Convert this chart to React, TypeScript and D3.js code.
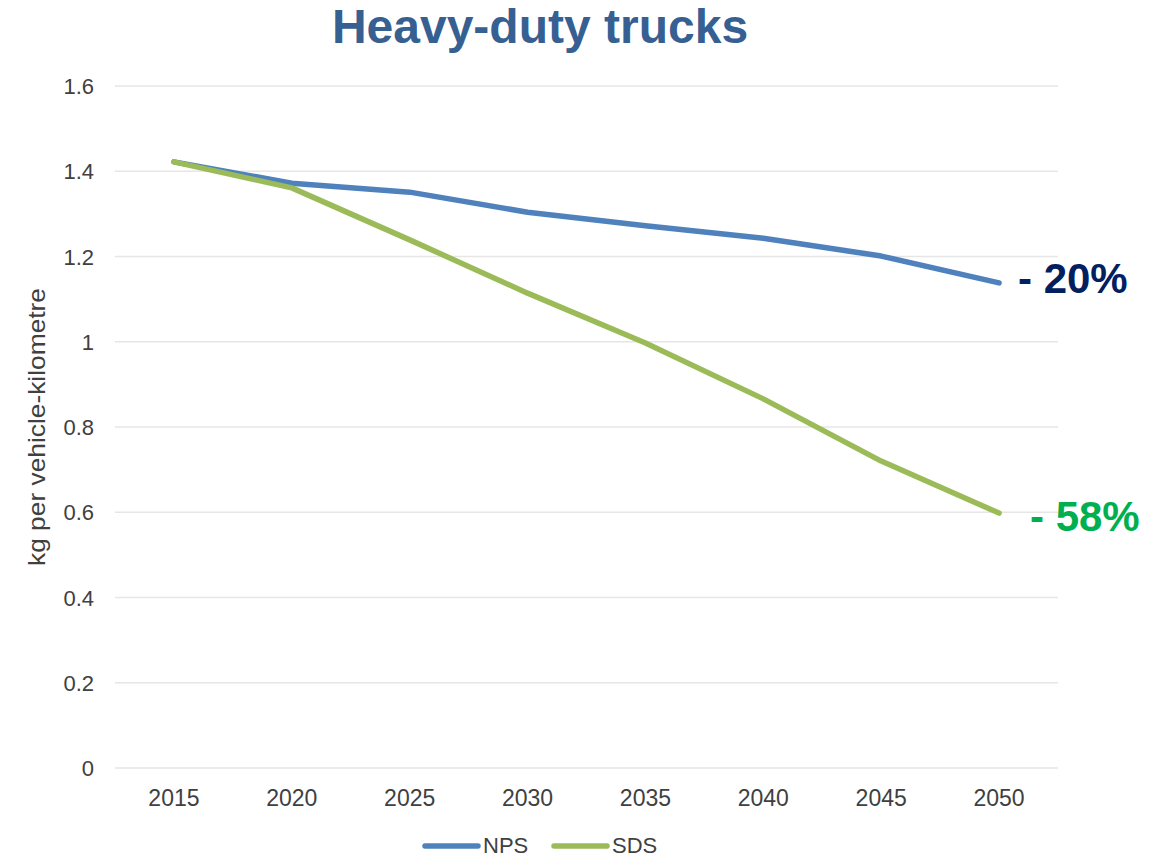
import React from "react";
import * as d3 from "d3";

const years = ["2015", "2020", "2025", "2030", "2035", "2040", "2045", "2050"];
const npsValues = [1.422, 1.372, 1.351, 1.304, 1.272, 1.243, 1.201, 1.138];
const sdsValues = [1.422, 1.361, 1.239, 1.114, 0.997, 0.866, 0.72, 0.598];
const yTicks = [0, 0.2, 0.4, 0.6, 0.8, 1, 1.2, 1.4, 1.6];
const seriesNames = ["NPS", "SDS"];
const seriesColors = ["#4F81BD", "#9BBB59"];
const annotations = ["- 20%", "- 58%"];
const annotationColors = ["#002060", "#00B050"];

const W = 1171;
const H = 858;
const plot = { left: 115, right: 1058, top: 86, bottom: 768 };
const font = "'Liberation Sans', Arial, sans-serif";

export default function App() {
  const x = d3.scaleBand<string>().domain(years).range([plot.left, plot.right]);
  const y = d3.scaleLinear().domain([0, 1.6]).range([plot.bottom, plot.top]);
  const cx = (yr: string) => (x(yr) as number) + x.bandwidth() / 2;
  const line = d3
    .line<number>()
    .x((_, i) => cx(years[i]))
    .y((v) => y(v));
  const series = [npsValues, sdsValues];

  return (
    <svg
      width={W}
      height={H}
      style={{ position: "absolute", left: 0, top: 0, background: "#fff" }}
      fontFamily={font}
    >
      <text x={540} y={43} textAnchor="middle" fontSize={48} fontWeight="bold" fill="#376092">
        Heavy-duty trucks
      </text>
      {yTicks.map((t) => (
        <g key={t}>
          <line x1={plot.left} x2={plot.right} y1={y(t)} y2={y(t)} stroke="#E6E6E6" strokeWidth={1.5} />
          <text x={94} y={y(t) + 8} textAnchor="end" fontSize={22} fill="#404040">
            {d3.format("~g")(t)}
          </text>
        </g>
      ))}
      {years.map((yr) => (
        <text key={yr} x={cx(yr)} y={806} textAnchor="middle" fontSize={23} fill="#404040">
          {yr}
        </text>
      ))}
      <text
        transform={`translate(45,${(plot.top + plot.bottom) / 2}) rotate(-90)`}
        textAnchor="middle"
        fontSize={24}
        fill="#404040"
        textLength={278}
        lengthAdjust="spacingAndGlyphs"
      >
        kg per vehicle-kilometre
      </text>
      {series.map((s, i) => (
        <path
          key={seriesNames[i]}
          d={line(s) as string}
          fill="none"
          stroke={seriesColors[i]}
          strokeWidth={5.5}
          strokeLinejoin="round"
          strokeLinecap="round"
        />
      ))}
      {series.map((s, i) => (
        <text
          key={annotations[i]}
          x={i === 0 ? 1018 : 1030}
          y={y(s[s.length - 1]) + (i === 0 ? 10 : 18)}
          fontSize={42}
          fontWeight="bold"
          fill={annotationColors[i]}
        >
          {annotations[i]}
        </text>
      ))}
      {seriesNames.map((n, i) => {
        const lx = i === 0 ? 423 : 552;
        return (
          <g key={n}>
            <line x1={lx + 2} x2={lx + 55} y1={846} y2={846} stroke={seriesColors[i]} strokeWidth={5.5} strokeLinecap="round" />
            <text x={lx + 60} y={853} fontSize={22} fill="#404040">
              {n}
            </text>
          </g>
        );
      })}
    </svg>
  );
}
